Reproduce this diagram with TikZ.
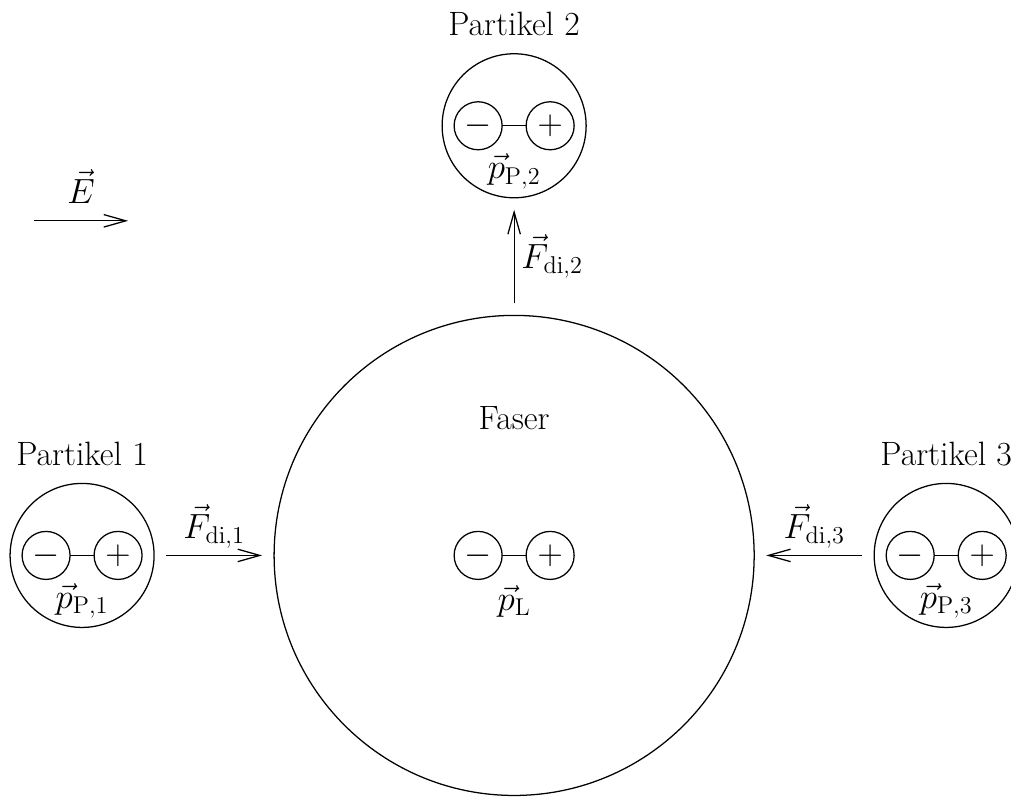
\documentclass[tikz,border=0pt]{standalone}
\usetikzlibrary{arrows.meta}
\begin{document}
\begin{tikzpicture}[
  line width=0.75pt,
  font=\fontsize{20}{24}\selectfont,
  every node/.style={outer sep=0pt},
  big/.style={draw, circle, inner sep=0pt, minimum size=10cm},
  part/.style={draw, circle, inner sep=0pt, minimum size=3cm},
  charge/.style={draw, circle, inner sep=0pt, minimum size=1cm},
  force/.style={-{Straight Barb[length=4.6mm,width=2.6mm]}, shorten <=0.25cm, shorten >=0.25cm},
  lbl/.style={inner sep=2pt}
]
\useasboundingbox (-10.71,-5.05) rectangle (10.35,11.57);

% fibre
\node[big] (faser) at (0,0) {};
\node[lbl] (faserlbl) at (0,2.85) {Faser};
\node[charge] (lm) at (-0.75,0) {$-$};
\node[charge] (lp) at (0.75,0) {$+$};
\draw (lm) -- (lp);
\node[lbl] (pl) at (0,-0.95) {$\vec{p}_{\mathrm{L}}$};

% particle 1
\node[part] (p1) at (-9,0) {};
\node[lbl] (p1lbl) at (-9,2.12) {Partikel 1};
\node[charge] (m1) at (-9.75,0) {$-$};
\node[charge] (q1) at (-8.25,0) {$+$};
\draw (m1) -- (q1);
\node[lbl] at (-9,-0.95) {$\vec{p}_{\mathrm{P},1}$};

% particle 2
\node[part] (p2) at (0,8.95) {};
\node[lbl] (p2lbl) at (0,11.07) {Partikel 2};
\node[charge] (m2) at (-0.75,8.95) {$-$};
\node[charge] (q2) at (0.75,8.95) {$+$};
\draw (m2) -- (q2);
\node[lbl] at (0,8.0) {$\vec{p}_{\mathrm{P},2}$};

% particle 3
\node[part] (p3) at (9,0) {};
\node[lbl] (p3lbl) at (9,2.12) {Partikel 3};
\node[charge] (m3) at (8.25,0) {$-$};
\node[charge] (q3) at (9.75,0) {$+$};
\draw (m3) -- (q3);
\node[lbl] at (9,-0.95) {$\vec{p}_{\mathrm{P},3}$};

% forces
\draw[force] (p1.east) -- node[above=1pt] {$\vec{F}_{\mathrm{di},1}$} (faser.west);
\draw[force] (faser.north) -- node[right=1pt] {$\vec{F}_{\mathrm{di},2}$} (p2.south);
\draw[force] (p3.west) -- node[above=1pt] {$\vec{F}_{\mathrm{di},3}$} (faser.east);

% field
\coordinate (e1) at (-10,6.97);
\coordinate (e2) at (-8.04,6.97);
\draw[-{Straight Barb[length=4.6mm,width=2.6mm]}] (e1) -- node[above=7pt] {$\vec{E}$} (e2);
\end{tikzpicture}
\end{document}
